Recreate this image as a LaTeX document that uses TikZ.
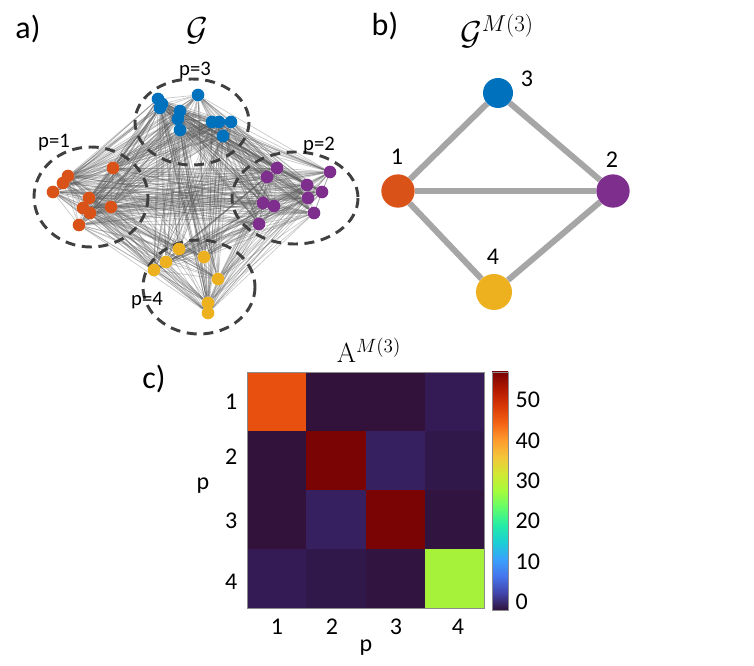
\documentclass[tikz,border=0pt]{standalone}
\usepackage[no-math]{fontspec}
\setmainfont{Carlito}
\usepackage{amsmath}
\usetikzlibrary{backgrounds}

\definecolor{grpone}{HTML}{D95319}
\definecolor{grptwo}{HTML}{7E2F8E}
\definecolor{grpthree}{HTML}{0072BD}
\definecolor{grpfour}{HTML}{EDB120}
\definecolor{linkgray}{HTML}{A6A6A6}
% heatmap cells
\definecolor{hmorange}{HTML}{E8500F}
\definecolor{hmred}{HTML}{7A0403}
\definecolor{hmlime}{HTML}{A6F23A}
\definecolor{hmdark}{HTML}{32113A}
\definecolor{hmdarkb}{HTML}{311540}
\definecolor{hmmid}{HTML}{31184A}
\definecolor{hmmidb}{HTML}{341B55}
\definecolor{hmblue}{HTML}{362060}
% turbo colormap
\definecolor{tb0}{HTML}{30123B}
\definecolor{tb1}{HTML}{4145AB}
\definecolor{tb2}{HTML}{4675ED}
\definecolor{tb3}{HTML}{39A2FC}
\definecolor{tb4}{HTML}{1BCFD4}
\definecolor{tb5}{HTML}{24ECA6}
\definecolor{tb6}{HTML}{61FC6C}
\definecolor{tb7}{HTML}{A4FC3B}
\definecolor{tb8}{HTML}{D1E834}
\definecolor{tb9}{HTML}{F3C63A}
\definecolor{tb10}{HTML}{FE9B2D}
\definecolor{tb11}{HTML}{F36315}
\definecolor{tb12}{HTML}{D93806}
\definecolor{tb13}{HTML}{B11901}
\definecolor{tb14}{HTML}{7A0402}
\pgfdeclareverticalshading{turbo}{100bp}{color(0bp)=(tb0); color(25bp)=(tb0);
  color(28.57bp)=(tb1); color(32.14bp)=(tb2); color(35.71bp)=(tb3);
  color(39.29bp)=(tb4); color(42.86bp)=(tb5); color(46.43bp)=(tb6);
  color(50bp)=(tb7); color(53.57bp)=(tb8); color(57.14bp)=(tb9);
  color(60.71bp)=(tb10); color(64.29bp)=(tb11); color(67.86bp)=(tb12);
  color(71.43bp)=(tb13); color(75bp)=(tb14); color(100bp)=(tb14)}

\tikzset{
  panel/.style={font=\fontsize{24}{28}\selectfont},
  ttl/.style={font=\fontsize{26}{30}\selectfont},
  lbl/.style={font=\fontsize{18}{21}\selectfont},
  plbl/.style={font=\fontsize{15.5}{18}\selectfont},
  dot/.style={circle,inner sep=0pt,minimum size=9.5pt},
  comm/.style={circle,inner sep=0pt},
  group/.style={draw=black!75,line width=2.2pt,dash pattern=on 7.5pt off 5pt},
  link/.style={draw=black!65,line width=0.5pt,opacity=0.34},
  mlink/.style={draw=linkgray,line width=4.5pt},
}

\begin{document}
\begin{tikzpicture}[x=0.75pt,y=-0.75pt]
\useasboundingbox (0,0) rectangle (754,666);

%% a) full network
\node[panel] (la) at (28,29) {a)};
\node[ttl] (ta) at (197,31) {$\mathcal{G}$};

\draw[group] (192,122) ellipse [x radius=57, y radius=43];
\draw[group] (91,197) ellipse [x radius=57, y radius=50];
\draw[group] (295,198) ellipse [x radius=63, y radius=46];
\draw[group] (199,287) ellipse [x radius=56, y radius=47];
\node[plbl] (p3) at (195,70) {p=3};
\node[plbl] (p1) at (54,143) {p=1};
\node[plbl] (p2) at (319,145) {p=2};
\node[plbl] (p4) at (147,301) {p=4};

\foreach \x/\y [count=\k] in {68/176,63/183,53/192,113/168,89/198,83/208,90/213,111/207,79/225}
  \node[dot,fill=grpone] (v\k) at (\x,\y) {};
\foreach \x/\y [count=\k from 10] in {158/99,162/104,160/108,180/111,178/119,180/130,198/95,212/122,219/122,231/122,223/136}
  \node[dot,fill=grpthree] (v\k) at (\x,\y) {};
\foreach \x/\y [count=\k from 21] in {277/168,267/177,330/172,307/185,322/192,308/198,263/203,274/206,314/213,259/224}
  \node[dot,fill=grptwo] (v\k) at (\x,\y) {};
\foreach \x/\y [count=\k from 31] in {179/249,204/257,166/262,154/270,218/279,208/303,208/313}
  \node[dot,fill=grpfour] (v\k) at (\x,\y) {};

\begin{pgfonlayer}{background}
\foreach \i in {1,...,36} {
  \pgfmathtruncatemacro\nxt{\i+1}
  \foreach \j in {\nxt,...,37}
    \draw[link] (v\i) -- (v\j);
}
\end{pgfonlayer}

%% b) community graph
\node[panel] (lb) at (385,26) {b)};
\node[ttl] (tb) at (497,31) {$\mathcal{G}^{M(3)}$};

\node[comm,fill=grpthree,minimum size=22.5pt] (c3) at (498,93) {};
\node[comm,fill=grpone,minimum size=25pt] (c1) at (398,191) {};
\node[comm,fill=grptwo,minimum size=25pt] (c2) at (613,191) {};
\node[comm,fill=grpfour,minimum size=27pt] (c4) at (494,292) {};
\node[lbl] at (527,79) {3};
\node[lbl] at (397,157) {1};
\node[lbl] at (612,160) {2};
\node[lbl] at (493,257) {4};

\begin{pgfonlayer}{background}
\draw[mlink] (c1) -- (c3);
\draw[mlink] (c3) -- (c2);
\draw[mlink] (c1) -- (c2);
\draw[mlink] (c1) -- (c4);
\draw[mlink] (c4) -- (c2);
\end{pgfonlayer}

%% c) adjacency matrix
\node[panel] (lc) at (154,379) {c)};
\node[ttl,font=\fontsize{21}{24}\selectfont] (tc) at (369,350) {$\mathrm{A}^{M(3)}$};

\foreach \r/\c/\col in {1/1/hmorange,1/2/hmdark,1/3/hmdark,1/4/hmmidb,
                        2/1/hmdark,2/2/hmred,2/3/hmblue,2/4/hmmid,
                        3/1/hmdark,3/2/hmblue,3/3/hmred,3/4/hmdarkb,
                        4/1/hmmidb,4/2/hmmid,4/3/hmdarkb,4/4/hmlime}
  \fill[\col] ({247+(\c-1)*59.25},{372+(\r-1)*59}) rectangle +(59.25,59);
\draw[black!45,line width=0.6pt] (247,372) rectangle (484,608);

\foreach \t/\y in {1/402,2/457,3/521,4/582}
  \node[lbl,anchor=east] at (242,\y) {\t};
\foreach \t/\x in {1/277,2/332,3/396,4/458}
  \node[lbl] at (\x,627) {\t};
\node[lbl] (yl) at (203,486) {p};
\node[lbl] (xl) at (366,648) {p};

% colour bar
\shade[shading=turbo] (492,372) rectangle (508,610);
\draw[black!45,line width=0.6pt] (492,372) rectangle (508,610);
\foreach \v in {0,10,...,50}
  \node[lbl,anchor=west] at (511,{602-4.04*\v}) {\v};
\end{tikzpicture}
\end{document}
